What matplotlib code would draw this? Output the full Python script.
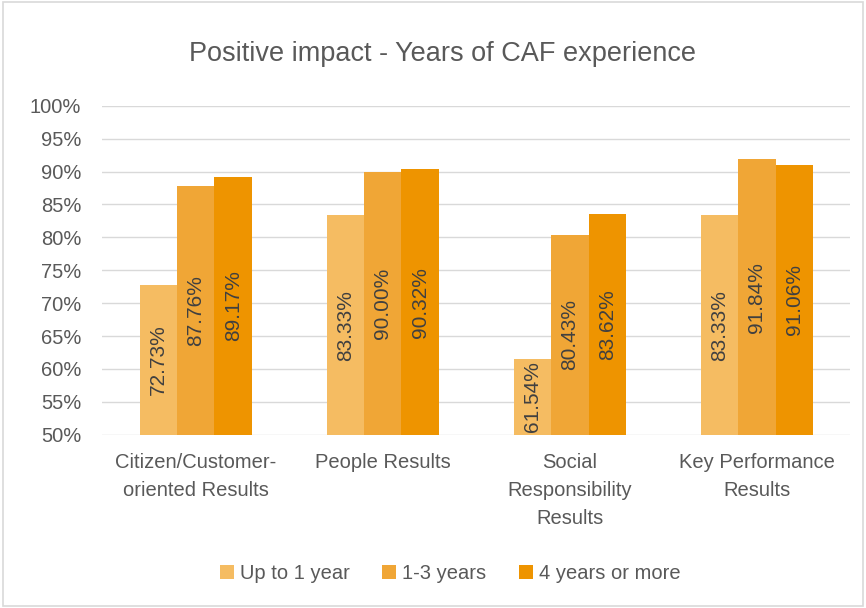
import numpy as np
import matplotlib.pyplot as plt
from matplotlib.patches import Rectangle

plt.rcParams['font.family'] = ['Liberation Sans', 'DejaVu Sans']

categories = ['Citizen/Customer-\noriented Results', 'People Results',
              'Social\nResponsibility\nResults', 'Key Performance\nResults']
series = ['Up to 1 year', '1-3 years', '4 years or more']
up_to_1 = [72.73, 83.33, 61.54, 83.33]
one_to_3 = [87.76, 90.00, 80.43, 91.84]
four_plus = [89.17, 90.32, 83.62, 91.06]
colors = ['#F5BC62', '#F0A636', '#EE9400']

text_col = '#595959'
fig = plt.figure(figsize=(8.66, 6.08), dpi=100)
ax = fig.add_axes([0.118, 0.285, 0.864, 0.541])

x = np.arange(len(categories))
w = 0.2
for i, (name, vals) in enumerate(zip(series, [up_to_1, one_to_3, four_plus])):
    pos = x + (i - 1) * w
    ax.bar(pos, vals, width=w, bottom=0, color=colors[i], label=name, zorder=2)
    for p, v in zip(pos, vals):
        ax.text(p, (50 + v) / 2, f'{v:.2f}%', rotation=90, ha='center', va='center',
                fontsize=15, color='#404040', zorder=3)

ax.set_ylim(50, 100)
ax.set_xlim(-0.5, len(categories) - 0.5)
ax.set_yticks(np.arange(50, 101, 5))
ax.set_yticklabels([f'{t}%' for t in range(50, 101, 5)])
ax.set_xticks(x)
ax.set_xticklabels(categories, linespacing=1.6)
ax.tick_params(axis='both', length=0, labelsize=14.5, colors=text_col)
ax.tick_params(axis='y', pad=15)
ax.tick_params(axis='x', pad=13)
ax.grid(axis='y', color='#D9D9D9', linewidth=1, zorder=0)
for s in ax.spines.values():
    s.set_visible(False)

fig.suptitle('Positive impact - Years of CAF experience', x=0.511, y=0.932,
             fontsize=19.5, color=text_col)

fig.legend(loc='center', bbox_to_anchor=(0.52, 0.056), ncol=3, frameon=False,
           fontsize=14.5, labelcolor=text_col, handlelength=0.7, handleheight=0.7,
           handletextpad=0.3, columnspacing=1.6)

fig.patches.append(Rectangle((0.003, 0.003), 0.994, 0.994, transform=fig.transFigure,
                             fill=False, edgecolor='#D9D9D9', linewidth=1.2))

plt.savefig('out.png', dpi=100)
